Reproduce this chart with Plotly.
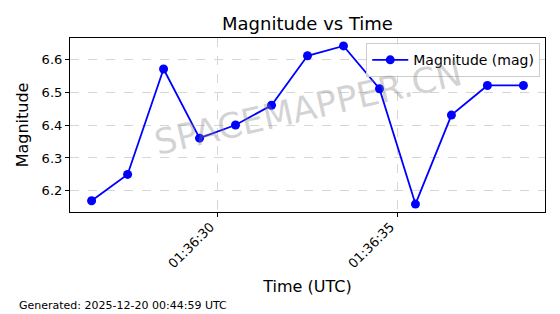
import plotly.graph_objects as go

times = ["2025-12-19 01:36:26.5", "2025-12-19 01:36:27.5", "2025-12-19 01:36:28.5",
         "2025-12-19 01:36:29.5", "2025-12-19 01:36:30.5", "2025-12-19 01:36:31.5",
         "2025-12-19 01:36:32.5", "2025-12-19 01:36:33.5", "2025-12-19 01:36:34.5",
         "2025-12-19 01:36:35.5", "2025-12-19 01:36:36.5", "2025-12-19 01:36:37.5",
         "2025-12-19 01:36:38.5"]
magnitude = [6.17, 6.25, 6.57, 6.36, 6.40, 6.46, 6.61, 6.64, 6.51, 6.16, 6.43, 6.52, 6.52]
tick_vals = ["2025-12-19 01:36:30", "2025-12-19 01:36:35"]
tick_text = ["01:36:30", "01:36:35"]
y_ticks = [6.2, 6.3, 6.4, 6.5, 6.6]

FONT = "DejaVu Sans"

fig = go.Figure()
fig.add_trace(go.Scatter(
    x=times, y=magnitude, mode="lines+markers", name="Magnitude (mag)",
    line=dict(color="#0000ff", width=1.8),
    marker=dict(color="#0000ff", size=9),
))

fig.update_layout(
    width=560, height=314,
    margin=dict(l=70, r=15, t=38, b=102),
    paper_bgcolor="white", plot_bgcolor="white",
    font=dict(family=FONT, color="black", size=13),
    title=dict(text="Magnitude vs Time", x=0.5, xref="paper", xanchor="center",
               y=1 - 24/314, yref="container", yanchor="middle",
               font=dict(size=18, family=FONT, color="black")),
    showlegend=True,
    legend=dict(x=0.99, y=0.97, xanchor="right", yanchor="top",
                bgcolor="rgba(255,255,255,0.8)", bordercolor="#cccccc", borderwidth=1,
                font=dict(size=14, family=FONT), itemwidth=36),
    xaxis=dict(
        type="date",
        range=["2025-12-19 01:36:25.9", "2025-12-19 01:36:39.1"],
        tickvals=tick_vals, ticktext=tick_text, tickangle=-45,
        ticklabelshift=-7, ticklabelstandoff=-3,
        showline=True, linecolor="black", linewidth=1.2, mirror=True,
        ticks="outside", ticklen=4, tickcolor="black",
        showgrid=True, gridcolor="#d6d6d6", griddash="dash", gridwidth=0.8,
        zeroline=False,
        title=dict(text="Time (UTC)", font=dict(size=16, family=FONT), standoff=10),
        tickfont=dict(size=13, family=FONT),
    ),
    yaxis=dict(
        range=[6.136, 6.664],
        tickvals=y_ticks, ticktext=[f"{v:.1f}" for v in y_ticks],
        showline=True, linecolor="black", linewidth=1.2, mirror=True,
        ticks="outside", ticklen=4, tickcolor="black",
        showgrid=True, gridcolor="#d6d6d6", griddash="dash", gridwidth=0.8,
        zeroline=False,
        title=dict(text="Magnitude", font=dict(size=16, family=FONT), standoff=9),
        tickfont=dict(size=13, family=FONT),
    ),
)

fig.add_annotation(
    text="SPACEMAPPER.CN", xref="paper", yref="paper", x=0.5, y=0.6,
    showarrow=False, textangle=-13,
    font=dict(size=35, family=FONT, color="rgba(128,128,128,0.35)"),
)
fig.add_annotation(
    text="Generated: 2025-12-20 00:44:59 UTC", xref="paper", yref="paper",
    x=-53/475, y=-(305-212)/174,
    xanchor="left", yanchor="middle", showarrow=False,
    font=dict(size=11, family=FONT, color="black"),
)

fig.write_html("out.html")
